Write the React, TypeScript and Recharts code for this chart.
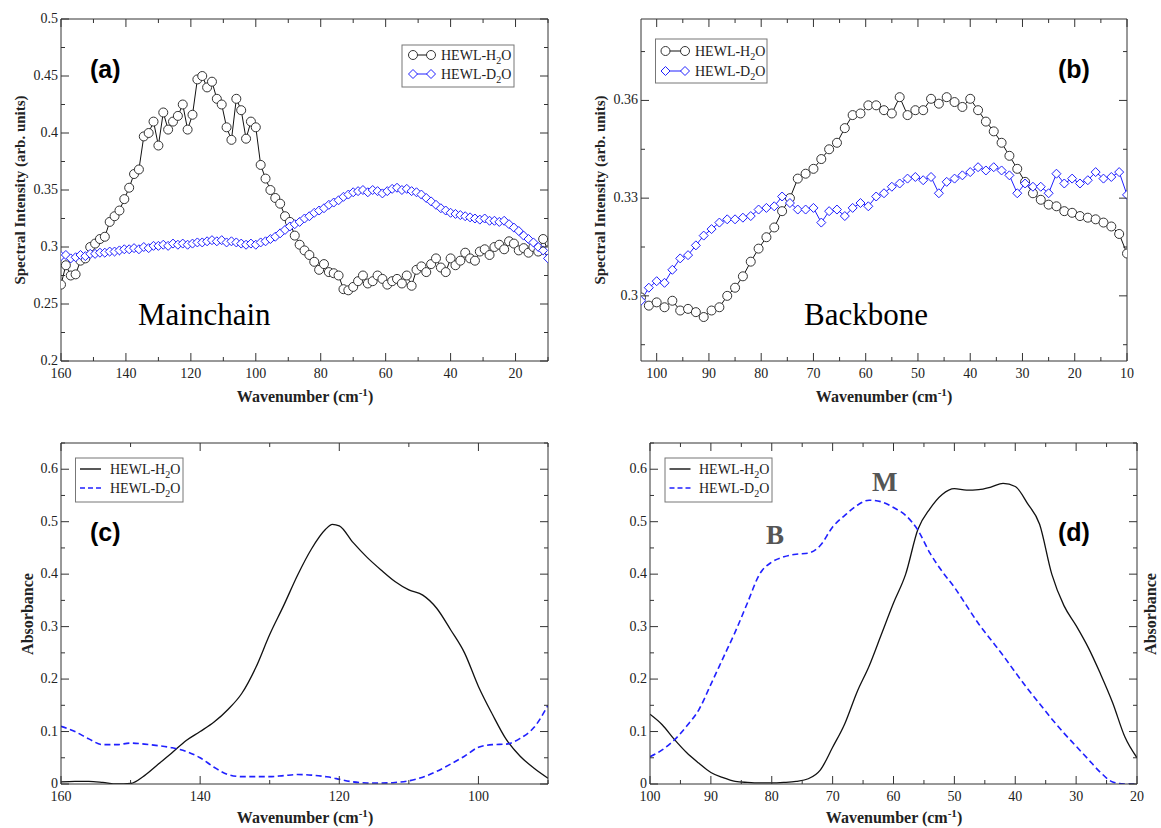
import React from "react";
import { LineChart, Line, XAxis, YAxis } from "recharts";

const SERIF = '"Liberation Serif", "Times New Roman", serif';
const SANS = '"Liberation Sans", Arial, sans-serif';
const BLUE = "#2020ff";
const INK = "#222";

// ---- panel (a): mainchain spectral intensity ----
const waveA = [
  160, 158.5, 157, 155.5, 154, 152.5, 151, 149.5, 148, 146.5, 145, 143.5, 142, 140.5, 139, 137.5, 136, 134.5, 133, 131.5,
  130, 128.5, 127, 125.5, 124, 122.5, 121, 119.5, 118, 116.5, 115, 113.5, 112, 110.5, 109, 107.5, 106, 104.5, 103, 101.5,
  100, 98.5, 97, 95.5, 94, 92.5, 91, 89.5, 88, 86.5, 85, 83.5, 82, 80.5, 79, 77.5, 76, 74.5, 73, 71.5,
  70, 68.5, 67, 65.5, 64, 62.5, 61, 59.5, 58, 56.5, 55, 53.5, 52, 50.5, 49, 47.5, 46, 44.5, 43, 41.5,
  40, 38.5, 37, 35.5, 34, 32.5, 31, 29.5, 28, 26.5, 25, 23.5, 22, 20.5, 19, 17.5, 16, 14.5, 13, 11.5, 10,
];
const h2oA = [
  0.267, 0.284, 0.275, 0.276, 0.288, 0.29, 0.3, 0.303, 0.307, 0.309, 0.322, 0.327, 0.332, 0.342, 0.352, 0.364, 0.368, 0.397, 0.4, 0.41,
  0.389, 0.418, 0.403, 0.41, 0.415, 0.425, 0.403, 0.416, 0.447, 0.45, 0.44, 0.445, 0.43, 0.425, 0.405, 0.394, 0.43, 0.42, 0.395, 0.41,
  0.405, 0.372, 0.36, 0.35, 0.343, 0.338, 0.327, 0.322, 0.31, 0.302, 0.297, 0.293, 0.287, 0.28, 0.285, 0.278, 0.277, 0.275, 0.263, 0.262,
  0.265, 0.27, 0.275, 0.268, 0.27, 0.275, 0.272, 0.267, 0.27, 0.272, 0.268, 0.275, 0.266, 0.28, 0.283, 0.278, 0.285, 0.29, 0.282, 0.278,
  0.29, 0.284, 0.288, 0.295, 0.29, 0.288, 0.296, 0.298, 0.293, 0.3, 0.302, 0.298, 0.305, 0.303, 0.297, 0.299, 0.295, 0.3, 0.296, 0.307, 0.297,
];
const d2oA = [
  0.292, 0.293, 0.29, 0.291, 0.293, 0.292, 0.294, 0.294, 0.295, 0.295, 0.296, 0.296, 0.297, 0.298, 0.298, 0.299, 0.298, 0.3, 0.299, 0.301,
  0.301, 0.302, 0.301, 0.303, 0.302, 0.303, 0.302, 0.303, 0.304, 0.304, 0.305, 0.306, 0.305, 0.306, 0.304, 0.305, 0.304, 0.303, 0.302, 0.303,
  0.302, 0.304, 0.305, 0.307, 0.309, 0.312, 0.315, 0.318, 0.32, 0.322, 0.325, 0.327, 0.33, 0.332, 0.334, 0.337, 0.339, 0.341, 0.344, 0.346,
  0.348, 0.349, 0.35, 0.348, 0.35, 0.349, 0.347, 0.349, 0.351, 0.352, 0.35, 0.351, 0.349, 0.348, 0.346, 0.343, 0.34, 0.337, 0.334, 0.332,
  0.33, 0.329, 0.328, 0.327, 0.326, 0.325, 0.324, 0.325, 0.323, 0.323, 0.322, 0.323, 0.32, 0.317, 0.314, 0.31, 0.307, 0.304, 0.3, 0.297, 0.29,
];

// ---- panel (b): backbone spectral intensity ----
const waveB = [
  103, 101.5, 100, 98.5, 97, 95.5, 94, 92.5, 91, 89.5, 88, 86.5, 85, 83.5, 82, 80.5, 79, 77.5, 76, 74.5,
  73, 71.5, 70, 68.5, 67, 65.5, 64, 62.5, 61, 59.5, 58, 56.5, 55, 53.5, 52, 50.5, 49, 47.5, 46, 44.5,
  43, 41.5, 40, 38.5, 37, 35.5, 34, 32.5, 31, 29.5, 28, 26.5, 25, 23.5, 22, 20.5, 19, 17.5, 16, 14.5, 13, 11.5, 10,
];
const h2oB = [
  0.2995, 0.297, 0.298, 0.2965, 0.2985, 0.2955, 0.296, 0.295, 0.2935, 0.2955, 0.2965, 0.3, 0.3025, 0.306, 0.3105, 0.3145, 0.318, 0.321, 0.326, 0.33,
  0.336, 0.3375, 0.339, 0.342, 0.345, 0.347, 0.3515, 0.3555, 0.356, 0.3585, 0.3585, 0.357, 0.356, 0.361, 0.3555, 0.357, 0.357, 0.3605, 0.359, 0.361,
  0.3595, 0.358, 0.3605, 0.357, 0.3535, 0.3505, 0.347, 0.343, 0.339, 0.335, 0.3315, 0.3295, 0.328, 0.3275, 0.326, 0.3255, 0.3245, 0.324, 0.3235, 0.3225, 0.3213, 0.319, 0.313,
];
const d2oB = [
  0.2985, 0.3025, 0.3045, 0.304, 0.308, 0.3115, 0.3125, 0.3155, 0.3185, 0.3205, 0.3225, 0.3235, 0.3235, 0.324, 0.3245, 0.3265, 0.327, 0.3275, 0.3305, 0.3285,
  0.3265, 0.3265, 0.327, 0.3225, 0.326, 0.3265, 0.3245, 0.327, 0.3285, 0.3275, 0.3305, 0.3315, 0.3335, 0.3345, 0.336, 0.3365, 0.3355, 0.3365, 0.3315, 0.335,
  0.336, 0.337, 0.338, 0.3395, 0.3385, 0.3395, 0.3385, 0.337, 0.3315, 0.3345, 0.3335, 0.3335, 0.3315, 0.3375, 0.3345, 0.336, 0.3345, 0.3355, 0.338, 0.336, 0.3365, 0.338, 0.331,
];

// ---- panel (c): mainchain absorbance ----
const waveC = [160, 158, 156, 154, 152, 150, 148, 146, 144, 142, 140, 138, 136, 134, 132, 130, 128, 126, 124, 122, 121, 120, 118, 116, 114, 112, 110, 108, 106, 104, 102, 100, 98, 96, 94, 92, 90];
const h2oC = [
  0.004, 0.005, 0.005, 0.003, 0, 0.001, 0.016, 0.038, 0.06, 0.083, 0.1, 0.118, 0.142, 0.173, 0.222, 0.285, 0.34, 0.398, 0.448, 0.485,
  0.495, 0.492, 0.46, 0.432, 0.408, 0.386, 0.37, 0.36, 0.335, 0.294, 0.25, 0.186, 0.133, 0.085, 0.053, 0.03, 0.011,
];
const d2oC = [
  0.11, 0.1, 0.086, 0.075, 0.075, 0.078, 0.076, 0.073, 0.069, 0.062, 0.05, 0.032, 0.018, 0.014, 0.014, 0.014, 0.016, 0.018, 0.017, 0.014,
  0.012, 0.009, 0.004, 0.002, 0.002, 0.003, 0.006, 0.013, 0.024, 0.038, 0.053, 0.07, 0.075, 0.076, 0.087, 0.108, 0.15,
];

// ---- panel (d): backbone absorbance ----
const waveD = [100, 98, 96, 94, 92, 90, 88, 86, 84, 82, 80, 78, 76, 74, 72, 70, 68, 66, 64, 62, 60, 58, 56, 54, 52, 50, 48, 46, 44, 42, 40, 38, 36, 34, 32, 30, 28, 26, 24, 22, 20];
const h2oD = [
  0.133, 0.113, 0.085, 0.06, 0.04, 0.022, 0.012, 0.005, 0.003, 0.002, 0.002, 0.003, 0.005, 0.01, 0.027, 0.07, 0.115, 0.175, 0.225, 0.285,
  0.345, 0.4, 0.485, 0.525, 0.552, 0.563, 0.56, 0.561, 0.566, 0.573, 0.567, 0.535, 0.495, 0.4, 0.34, 0.302, 0.26, 0.21, 0.155, 0.09, 0.05,
];
const d2oD = [
  0.052, 0.065, 0.084, 0.11, 0.141, 0.19, 0.24, 0.29, 0.345, 0.4, 0.423, 0.433, 0.438, 0.44, 0.455, 0.49, 0.512, 0.531, 0.541, 0.538,
  0.527, 0.512, 0.484, 0.44, 0.405, 0.375, 0.34, 0.305, 0.275, 0.245, 0.213, 0.182, 0.153, 0.124, 0.097, 0.072, 0.047, 0.022, 0.004, 0, 0,
];

// ---- axis ticks ----
const xTicksA = [10, 20, 30, 40, 50, 60, 70, 80, 90, 100, 110, 120, 130, 140, 150, 160];
const xMajorsA = [20, 40, 60, 80, 100, 120, 140, 160];
const yTicksA = [0.2, 0.225, 0.25, 0.275, 0.3, 0.325, 0.35, 0.375, 0.4, 0.425, 0.45, 0.475, 0.5];
const yMajorsA = [0.2, 0.25, 0.3, 0.35, 0.4, 0.45, 0.5];
const xTicksB = [10, 15, 20, 25, 30, 35, 40, 45, 50, 55, 60, 65, 70, 75, 80, 85, 90, 95, 100];
const xMajorsB = [10, 20, 30, 40, 50, 60, 70, 80, 90, 100];
const yTicksB = [0.285, 0.3, 0.315, 0.33, 0.345, 0.36, 0.375];
const yMajorsB = [0.3, 0.33, 0.36];
const xTicksC = [90, 100, 110, 120, 130, 140, 150, 160];
const xMajorsC = [100, 120, 140, 160];
const yTicksAbs = [0, 0.05, 0.1, 0.15, 0.2, 0.25, 0.3, 0.35, 0.4, 0.45, 0.5, 0.55, 0.6, 0.65];
const yMajorsAbs = [0, 0.1, 0.2, 0.3, 0.4, 0.5, 0.6];
const xTicksD = [20, 25, 30, 35, 40, 45, 50, 55, 60, 65, 70, 75, 80, 85, 90, 95, 100];
const xMajorsD = [20, 30, 40, 50, 60, 70, 80, 90, 100];

const rowsA = waveA.map((w, i) => ({ w, h2o: h2oA[i], d2o: d2oA[i] }));
const rowsB = waveB.map((w, i) => ({ w, h2o: h2oB[i], d2o: d2oB[i] }));
const rowsC = waveC.map((w, i) => ({ w, h2o: h2oC[i], d2o: d2oC[i] }));
const rowsD = waveD.map((w, i) => ({ w, h2o: h2oD[i], d2o: d2oD[i] }));

// tick marks point inward on all four sides; labels only on majors
function makeTick(side: string, majors: number[], labels: boolean) {
  return (p: any) => {
    const v = p.payload.value;
    const major = majors.some((m) => Math.abs(m - v) < 1e-9);
    const len = major ? 8 : 4;
    const { x, y } = p;
    let x2 = x;
    let y2 = y;
    if (side === "bottom") y2 = y - len;
    if (side === "top") y2 = y + len;
    if (side === "left") x2 = x + len;
    if (side === "right") x2 = x - len;
    let label = null;
    if (labels && major && side === "bottom")
      label = <text x={x} y={y + 17} textAnchor="middle" fontFamily={SERIF} fontSize={14} fill={INK}>{v}</text>;
    if (labels && major && side === "left")
      label = <text x={x - 3} y={y + 4} textAnchor="end" fontFamily={SERIF} fontSize={14} fill={INK}>{v}</text>;
    return (
      <g key={`${side}-${v}`}>
        <line x1={x} y1={y} x2={x2} y2={y2} stroke="#333" strokeWidth={1} />
        {label}
      </g>
    );
  };
}

function frame(xDomain: number[], xTicks: number[], xMajors: number[], yDomain: number[], yTicks: number[], yMajors: number[], yW: number) {
  const common = { type: "number" as const, allowDataOverflow: true, interval: 0 as const, tickSize: 0, tickMargin: 0, tickLine: false, axisLine: { stroke: "#333" } };
  return [
    <XAxis key="xb" xAxisId="b" dataKey="w" domain={xDomain} reversed ticks={xTicks} height={30} tick={makeTick("bottom", xMajors, true)} {...common} />,
    <XAxis key="xt" xAxisId="t" orientation="top" dataKey="w" domain={xDomain} reversed ticks={xTicks} height={1} tick={makeTick("top", xMajors, false)} {...common} />,
    <YAxis key="yl" yAxisId="l" domain={yDomain} ticks={yTicks} width={yW} tick={makeTick("left", yMajors, true)} {...common} />,
    <YAxis key="yr" yAxisId="r" orientation="right" domain={yDomain} ticks={yTicks} width={1} tick={makeTick("right", yMajors, false)} {...common} />,
  ];
}

const circleDot = (p: any) => (
  <circle key={`c-${p.index}`} cx={p.cx} cy={p.cy} r={4.5} fill="#fff" stroke="#333" strokeWidth={1} />
);
const diamondDot = (p: any) => {
  const r = 4.5;
  return (
    <path
      key={`d-${p.index}`}
      d={`M${p.cx},${p.cy - r}L${p.cx + r},${p.cy}L${p.cx},${p.cy + r}L${p.cx - r},${p.cy}Z`}
      fill="#fff"
      stroke={BLUE}
      strokeWidth={1}
    />
  );
};

function WaveTitle({ x, y }: { x: number; y: number }) {
  return (
    <text x={x} y={y} textAnchor="middle" fontFamily={SERIF} fontWeight="bold" fontSize={16} fill={INK}>
      Wavenumber (cm<tspan dy={-6} fontSize={11}>-1</tspan>
      <tspan dy={6}>)</tspan>
    </text>
  );
}

function SeriesName({ x, y, sym }: { x: number; y: number; sym: string }) {
  return (
    <text x={x} y={y} fontFamily={SERIF} fontSize={14} fill={INK}>
      HEWL-{sym}
      <tspan dy={4} fontSize={10}>2</tspan>
      <tspan dy={-4}>O</tspan>
    </text>
  );
}

function MarkerLegend({ x, y, w, h, r1, r2, m1, m2, tx }: any) {
  return (
    <g>
      <rect x={x} y={y} width={w} height={h} fill="#fff" stroke="#777" strokeWidth={1} />
      <line x1={m1} y1={r1} x2={m2} y2={r1} stroke="#111" />
      <circle cx={m1} cy={r1} r={4.5} fill="#fff" stroke="#333" />
      <circle cx={m2} cy={r1} r={4.5} fill="#fff" stroke="#333" />
      <SeriesName x={tx} y={r1 + 5} sym="H" />
      <line x1={m1} y1={r2} x2={m2} y2={r2} stroke={BLUE} />
      <path d={`M${m1},${r2 - 4.5}L${m1 + 4.5},${r2}L${m1},${r2 + 4.5}L${m1 - 4.5},${r2}Z`} fill="#fff" stroke={BLUE} />
      <path d={`M${m2},${r2 - 4.5}L${m2 + 4.5},${r2}L${m2},${r2 + 4.5}L${m2 - 4.5},${r2}Z`} fill="#fff" stroke={BLUE} />
      <SeriesName x={tx} y={r2 + 5} sym="D" />
    </g>
  );
}

function LineLegend({ x, y, w, h, r1, r2, l1, l2, tx }: any) {
  return (
    <g>
      <rect x={x} y={y} width={w} height={h} fill="#fff" stroke="#777" strokeWidth={1} />
      <line x1={l1} y1={r1} x2={l2} y2={r1} stroke="#111" strokeWidth={1.4} />
      <SeriesName x={tx} y={r1 + 5} sym="H" />
      <line x1={l1} y1={r2} x2={l2} y2={r2} stroke={BLUE} strokeWidth={1.6} strokeDasharray="5 3" />
      <SeriesName x={tx} y={r2 + 5} sym="D" />
    </g>
  );
}

export default function App() {
  const abs = (left: number, top: number): React.CSSProperties => ({ position: "absolute", left, top });
  return (
    <div style={{ position: "absolute", left: 0, top: 0, width: 1161, height: 828, background: "#fff" }}>
      <div style={abs(0, 0)}>
        <LineChart width={580} height={410} data={rowsA} margin={{ top: 18, right: 31, bottom: 19, left: 0 }}>
          {frame([10, 160], xTicksA, xMajorsA, [0.2, 0.5], yTicksA, yMajorsA, 61)}
          <Line xAxisId="b" yAxisId="l" dataKey="h2o" type="linear" stroke="#111" strokeWidth={1} dot={circleDot} activeDot={false} isAnimationActive={false} />
          <Line xAxisId="b" yAxisId="l" dataKey="d2o" type="linear" stroke={BLUE} strokeWidth={1} dot={diamondDot} activeDot={false} isAnimationActive={false} />
        </LineChart>
      </div>
      <div style={abs(580, 0)}>
        <LineChart width={581} height={410} data={rowsB} margin={{ top: 18, right: 33, bottom: 19, left: 0 }}>
          {frame([10, 103], xTicksB, xMajorsB, [0.28, 0.385], yTicksB, yMajorsB, 61)}
          <Line xAxisId="b" yAxisId="l" dataKey="h2o" type="linear" stroke="#111" strokeWidth={1} dot={circleDot} activeDot={false} isAnimationActive={false} />
          <Line xAxisId="b" yAxisId="l" dataKey="d2o" type="linear" stroke={BLUE} strokeWidth={1} dot={diamondDot} activeDot={false} isAnimationActive={false} />
        </LineChart>
      </div>
      <div style={abs(0, 420)}>
        <LineChart width={580} height={408} data={rowsC} margin={{ top: 22, right: 31, bottom: 14, left: 0 }}>
          {frame([90, 160], xTicksC, xMajorsC, [0, 0.65], yTicksAbs, yMajorsAbs, 61)}
          <Line xAxisId="b" yAxisId="l" dataKey="h2o" type="monotone" stroke="#111" strokeWidth={1.3} dot={false} activeDot={false} isAnimationActive={false} />
          <Line xAxisId="b" yAxisId="l" dataKey="d2o" type="monotone" stroke={BLUE} strokeWidth={1.6} strokeDasharray="6 3.5" dot={false} activeDot={false} isAnimationActive={false} />
        </LineChart>
      </div>
      <div style={abs(580, 420)}>
        <LineChart width={581} height={408} data={rowsD} margin={{ top: 22, right: 23, bottom: 14, left: 0 }}>
          {frame([20, 100], xTicksD, xMajorsD, [0, 0.65], yTicksAbs, yMajorsAbs, 70)}
          <Line xAxisId="b" yAxisId="l" dataKey="h2o" type="monotone" stroke="#111" strokeWidth={1.3} dot={false} activeDot={false} isAnimationActive={false} />
          <Line xAxisId="b" yAxisId="l" dataKey="d2o" type="monotone" stroke={BLUE} strokeWidth={1.6} strokeDasharray="6 3.5" dot={false} activeDot={false} isAnimationActive={false} />
        </LineChart>
      </div>

      <svg width={1161} height={828} style={{ position: "absolute", left: 0, top: 0, pointerEvents: "none" }}>
        {/* axis titles */}
        <WaveTitle x={305} y={402} />
        <WaveTitle x={884} y={402} />
        <WaveTitle x={305} y={823} />
        <WaveTitle x={894} y={823} />
        <text transform="translate(19.5,190) rotate(-90)" textAnchor="middle" dominantBaseline="central" fontFamily={SERIF} fontWeight="bold" fontSize={15} fill={INK}>
          Spectral Intensity (arb. units)
        </text>
        <text transform="translate(599.5,190) rotate(-90)" textAnchor="middle" dominantBaseline="central" fontFamily={SERIF} fontWeight="bold" fontSize={15} fill={INK}>
          Spectral Intensity (arb. units)
        </text>
        <text transform="translate(27.5,614) rotate(-90)" textAnchor="middle" dominantBaseline="central" fontFamily={SERIF} fontWeight="bold" fontSize={16} fill={INK}>
          Absorbance
        </text>
        <text transform="translate(1150.5,614) rotate(-90)" textAnchor="middle" dominantBaseline="central" fontFamily={SERIF} fontWeight="bold" fontSize={16} fill={INK}>
          Absorbance
        </text>

        {/* panel letters and annotations */}
        <text x={90} y={78} fontFamily={SANS} fontWeight="bold" fontSize={25} fill="#000">(a)</text>
        <text x={1058} y={78} fontFamily={SANS} fontWeight="bold" fontSize={25} fill="#000">(b)</text>
        <text x={90} y={541} fontFamily={SANS} fontWeight="bold" fontSize={25} fill="#000">(c)</text>
        <text x={1058} y={541} fontFamily={SANS} fontWeight="bold" fontSize={25} fill="#000">(d)</text>
        <text x={138} y={325} fontFamily={SERIF} fontSize={31} fill="#000">Mainchain</text>
        <text x={804} y={325} fontFamily={SERIF} fontSize={31} fill="#000">Backbone</text>
        <text x={766} y={544} fontFamily={SERIF} fontWeight="bold" fontSize={27} fill="#555">B</text>
        <text x={872} y={491} fontFamily={SERIF} fontWeight="bold" fontSize={27} fill="#555">M</text>

        {/* legends */}
        <MarkerLegend x={402} y={45} w={112} h={42} r1={55} r2={74} m1={413} m2={431} tx={441} />
        <MarkerLegend x={655.5} y={39} w={111.5} h={44} r1={51} r2={71} m1={665.5} m2={685} tx={695} />
        <LineLegend x={75.5} y={458} w={107.5} h={44} r1={469} r2={488} l1={80} l2={101} tx={110} />
        <LineLegend x={665} y={458} w={107} h={44} r1={469} r2={488} l1={669.5} l2={690.5} tx={699} />
      </svg>
    </div>
  );
}
